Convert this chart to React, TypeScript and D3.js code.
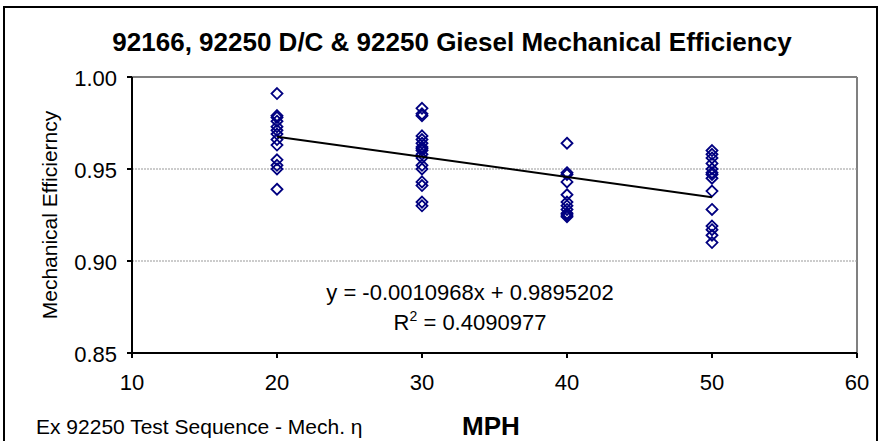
import React from "react";
import * as d3 from "d3";

const mph20 = [0.991, 0.979, 0.978, 0.976, 0.973, 0.971, 0.969, 0.966, 0.963, 0.955, 0.952, 0.950, 0.939];
const mph30 = [0.983, 0.980, 0.979, 0.968, 0.966, 0.964, 0.962, 0.961, 0.960, 0.958, 0.956, 0.952, 0.950, 0.943, 0.941, 0.932, 0.930];
const mph40 = [0.964, 0.948, 0.947, 0.943, 0.936, 0.932, 0.930, 0.928, 0.926, 0.925, 0.924];
const mph50 = [0.960, 0.958, 0.956, 0.953, 0.950, 0.948, 0.947, 0.945, 0.938, 0.928, 0.919, 0.917, 0.914, 0.910];
const speeds = [20, 30, 40, 50];
const xTicks = [10, 20, 30, 40, 50, 60];
const yTicks = [0.85, 0.9, 0.95, 1.0];
const slope = -0.0010968;
const intercept = 0.9895202;
const rSquared = "0.4090977";

const W = 881, H = 441;
const m = { left: 132, right: 857, top: 77, bottom: 353 };

export default function App() {
  const x = d3.scaleLinear().domain([10, 60]).range([m.left, m.right]);
  const y = d3.scaleLinear().domain([0.85, 1.0]).range([m.bottom, m.top]);
  const groups = [mph20, mph30, mph40, mph50];
  const points = groups.flatMap((vals, i) => vals.map((v) => ({ s: speeds[i], v })));
  const line = d3.line<number>().x((s) => x(s)).y((s) => y(slope * s + intercept));
  const font = "Arial, 'Liberation Sans', sans-serif";
  const r = 5.5;
  const diamond = (cx: number, cy: number) =>
    `M${cx},${cy - r}L${cx + r},${cy}L${cx},${cy + r}L${cx - r},${cy}Z`;

  return (
    <svg width={W} height={H} style={{ position: "absolute", left: 0, top: 0, background: "#fff" }} fontFamily={font}>
      <rect x={0} y={0} width={W} height={H} fill="#fff" />
      <rect x={4} y={7} width={873} height={460} fill="none" stroke="#000" strokeWidth={2} />
      <text x={452} y={51} textAnchor="middle" fontSize={26} fontWeight="bold">
        92166, 92250 D/C &amp; 92250 Giesel Mechanical Efficiency
      </text>
      <line x1={m.left} x2={m.right} y1={y(1.0)} y2={y(1.0)} stroke="#808080" strokeWidth={2} />
      <line x1={m.right} x2={m.right} y1={m.top} y2={m.bottom} stroke="#808080" strokeWidth={2} />
      {yTicks.filter((t) => t > 0.86 && t < 0.99).map((t) => (
        <line key={t} x1={m.left} x2={m.right} y1={y(t)} y2={y(t)} stroke="#999" strokeWidth={1} strokeDasharray="2,1" />
      ))}
      <line x1={m.left} x2={m.left} y1={m.top} y2={m.bottom} stroke="#000" strokeWidth={2} />
      <line x1={m.left} x2={m.right} y1={m.bottom} y2={m.bottom} stroke="#000" strokeWidth={2} />
      {yTicks.map((t) => (
        <g key={t}>
          <line x1={m.left - 5} x2={m.left} y1={y(t)} y2={y(t)} stroke="#000" strokeWidth={2} />
          <text x={117} y={y(t) + 9} textAnchor="end" fontSize={22}>{t.toFixed(2)}</text>
        </g>
      ))}
      {xTicks.map((t) => (
        <g key={t}>
          <line x1={x(t)} x2={x(t)} y1={m.bottom} y2={m.bottom + 5} stroke="#000" strokeWidth={2} />
          <text x={x(t)} y={390} textAnchor="middle" fontSize={22}>{t}</text>
        </g>
      ))}
      <text transform={`translate(57,${(m.top + m.bottom) / 2}) rotate(-90)`} textAnchor="middle" fontSize={21}>
        Mechanical Efficierncy
      </text>
      <text x={491} y={435} textAnchor="middle" fontSize={26} fontWeight="bold">MPH</text>
      <text x={36} y={434} fontSize={21}>Ex 92250 Test Sequence  - Mech. η</text>
      {points.map((p, i) => (
        <path key={i} d={diamond(x(p.s), y(p.v))} fill="none" stroke="#000080" strokeWidth={1.8} />
      ))}
      <path d={line([20, 50]) || ""} fill="none" stroke="#000" strokeWidth={2} />
      <text x={470} y={300} textAnchor="middle" fontSize={22}>y = -0.0010968x + 0.9895202</text>
      <text x={470} y={330} textAnchor="middle" fontSize={22}>
        R<tspan dy={-9} fontSize={14}>2</tspan><tspan dy={9}> = {rSquared}</tspan>
      </text>
    </svg>
  );
}
